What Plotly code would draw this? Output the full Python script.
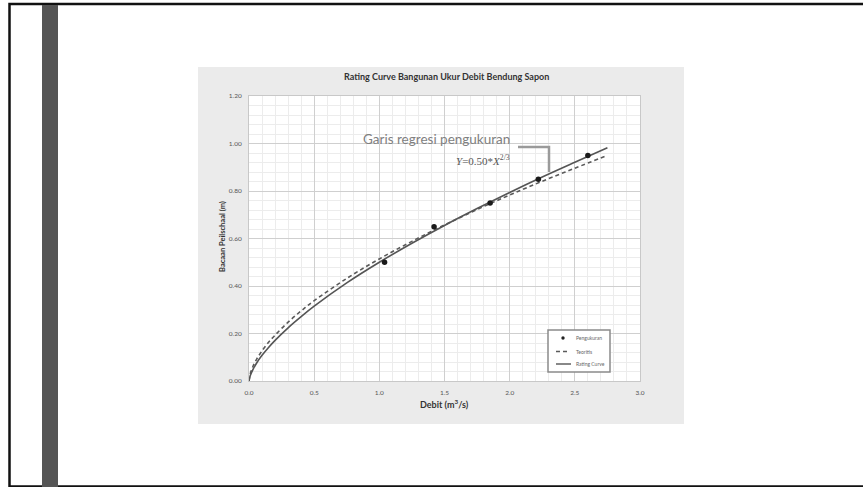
import plotly.graph_objects as go

# ---- data ----
meas_q = [1.04, 1.42, 1.85, 2.22, 2.60]
meas_h = [0.50, 0.65, 0.75, 0.85, 0.95]

curve_q = [0.0, 0.01, 0.03, 0.06, 0.10, 0.15, 0.20, 0.30, 0.40, 0.50, 0.75,
           1.00, 1.25, 1.50, 1.75, 2.00, 2.25, 2.50, 2.75]
rating_h = [0.0, 0.023, 0.048, 0.077, 0.108, 0.141, 0.171, 0.224, 0.271, 0.315, 0.413,
            0.500, 0.580, 0.655, 0.726, 0.794, 0.859, 0.921, 0.982]
teoritis_h = [0.0, 0.031, 0.061, 0.093, 0.127, 0.163, 0.193, 0.248, 0.295, 0.338, 0.432,
              0.514, 0.588, 0.657, 0.722, 0.783, 0.841, 0.896, 0.950]

x_ticks = [0.0, 0.5, 1.0, 1.5, 2.0, 2.5, 3.0]
y_ticks = [0.0, 0.2, 0.4, 0.6, 0.8, 1.0, 1.2]

legend_names = ["Pengukuran", "Teoritis", "Rating Curve"]

# ---- layout geometry (pixels) ----
W, H = 863, 487
PL, PR, PT, PB = 249, 640, 96, 381


def px(x):
    return (x - PL) / (PR - PL)


def py(y):
    return (PB - y) / (PB - PT)


FONT = "Lato, Open Sans, sans-serif"
LINE_COL = "#555555"

fig = go.Figure()

fig.add_trace(go.Scatter(x=curve_q, y=teoritis_h, mode="lines", name=legend_names[1],
                         line=dict(color="#5a5a5a", width=1.6, dash="4px,3px", shape="spline")))
fig.add_trace(go.Scatter(x=curve_q, y=rating_h, mode="lines", name=legend_names[2],
                         line=dict(color=LINE_COL, width=1.6, shape="spline")))
fig.add_trace(go.Scatter(x=meas_q, y=meas_h, mode="markers", name=legend_names[0],
                         marker=dict(color="#1a1a1a", size=5.5)))

shapes = [
    # slide border
    dict(type="rect", xref="paper", yref="paper", x0=px(9.5), x1=px(866), y0=py(4), y1=py(486.5),
         line=dict(color="#111111", width=2.5), fillcolor="rgba(0,0,0,0)", layer="below"),
    # dark side bar
    dict(type="rect", xref="paper", yref="paper", x0=px(42), x1=px(58), y0=py(5), y1=py(488),
         line=dict(width=0), fillcolor="#555555", layer="below"),
    # chart panel
    dict(type="rect", xref="paper", yref="paper", x0=px(198), x1=px(684), y0=py(67), y1=py(424),
         line=dict(width=0), fillcolor="#ebebeb", layer="below"),
    # plot area
    dict(type="rect", xref="paper", yref="paper", x0=0, x1=1, y0=0, y1=1,
         line=dict(width=0), fillcolor="#ffffff", layer="below"),
    # callout bracket
    dict(type="path", xref="paper", yref="paper",
         path=f"M {px(518)},{py(147)} L {px(549)},{py(147)} L {px(549)},{py(172)}",
         line=dict(color="#9a9a9a", width=2.5), layer="above"),
    # legend box
    dict(type="rect", xref="paper", yref="paper", x0=px(548), x1=px(610), y0=py(330), y1=py(372),
         line=dict(color="#8a8a8a", width=1.5), fillcolor="#ffffff", layer="above"),
    # legend symbols
    dict(type="circle", xref="paper", yref="paper", x0=px(561.3), x1=px(564.7),
         y0=py(336.3), y1=py(339.7), line=dict(width=0), fillcolor="#222222", layer="above"),
    dict(type="line", xref="paper", yref="paper", x0=px(556), x1=px(569), y0=py(351.5), y1=py(351.5),
         line=dict(color="#5a5a5a", width=1.4, dash="4px,3px"), layer="above"),
    dict(type="line", xref="paper", yref="paper", x0=px(556), x1=px(571), y0=py(364), y1=py(364),
         line=dict(color=LINE_COL, width=1.4), layer="above"),
]

annotations = [
    dict(text="<b>Rating Curve Bangunan Ukur Debit Bendung Sapon</b>", xref="paper", yref="paper",
         x=px(446), y=py(76), showarrow=False, font=dict(family=FONT, size=9, color="#333333"),
         xanchor="center", yanchor="middle"),
    dict(text="<b>Debit (m<sup>3</sup>/s)</b>", xref="paper", yref="paper",
         x=px(444), y=py(404), showarrow=False, font=dict(family=FONT, size=9, color="#333333"),
         xanchor="center", yanchor="middle"),
    dict(text="<b>Bacaan Peilschaal (m)</b>", xref="paper", yref="paper", textangle=-90,
         x=px(222), y=py(237), showarrow=False, font=dict(family=FONT, size=7.5, color="#333333"),
         xanchor="center", yanchor="middle"),
    dict(text="Garis regresi pengukuran", xref="paper", yref="paper",
         x=px(436), y=py(139), showarrow=False, font=dict(family=FONT, size=13.5, color="#808080"),
         xanchor="center", yanchor="middle"),
    dict(text="<i>Y</i>=0.50*<i>X</i><sup>2/3</sup>", xref="paper", yref="paper",
         x=px(483), y=py(160), showarrow=False,
         font=dict(family="Liberation Serif, serif", size=11, color="#555555"),
         xanchor="center", yanchor="middle"),
]
legend_rows = [338, 351.5, 364]
for name, row in zip(legend_names, legend_rows):
    annotations.append(dict(text=name, xref="paper", yref="paper", x=px(574), y=py(row),
                            showarrow=False, xanchor="left", yanchor="middle",
                            font=dict(family=FONT, size=5, color="#666666")))

fig.update_layout(
    width=W, height=H,
    margin=dict(l=PL, r=W - PR, t=PT, b=H - PB, pad=0),
    paper_bgcolor="#ffffff", plot_bgcolor="rgba(0,0,0,0)",
    showlegend=False,
    shapes=shapes, annotations=annotations,
    font=dict(family=FONT),
)

fig.update_xaxes(range=[0, 3.0], tickvals=x_ticks, ticktext=[f"{v:.1f}" for v in x_ticks],
                 showgrid=True, gridcolor="#cfcfcf", gridwidth=1,
                 minor=dict(dtick=0.1, showgrid=True, gridcolor="#ececec", gridwidth=1),
                 showline=True, linecolor="#c8c8c8", linewidth=1, mirror=True,
                 zeroline=False, ticks="", ticklabelstandoff=5,
                 tickfont=dict(family=FONT, size=6.5, color="#555555"))
fig.update_yaxes(range=[0, 1.2], tickvals=y_ticks, ticktext=[f"{v:.2f}" for v in y_ticks],
                 showgrid=True, gridcolor="#cfcfcf", gridwidth=1,
                 minor=dict(dtick=0.04, showgrid=True, gridcolor="#ececec", gridwidth=1),
                 showline=True, linecolor="#c8c8c8", linewidth=1, mirror=True,
                 zeroline=False, ticks="", ticklabelstandoff=5,
                 tickfont=dict(family=FONT, size=6.5, color="#555555"))

fig.write_html("out.html", config={"displayModeBar": False},
               post_script="document.body.style.margin='0';document.body.style.overflow='hidden';")
